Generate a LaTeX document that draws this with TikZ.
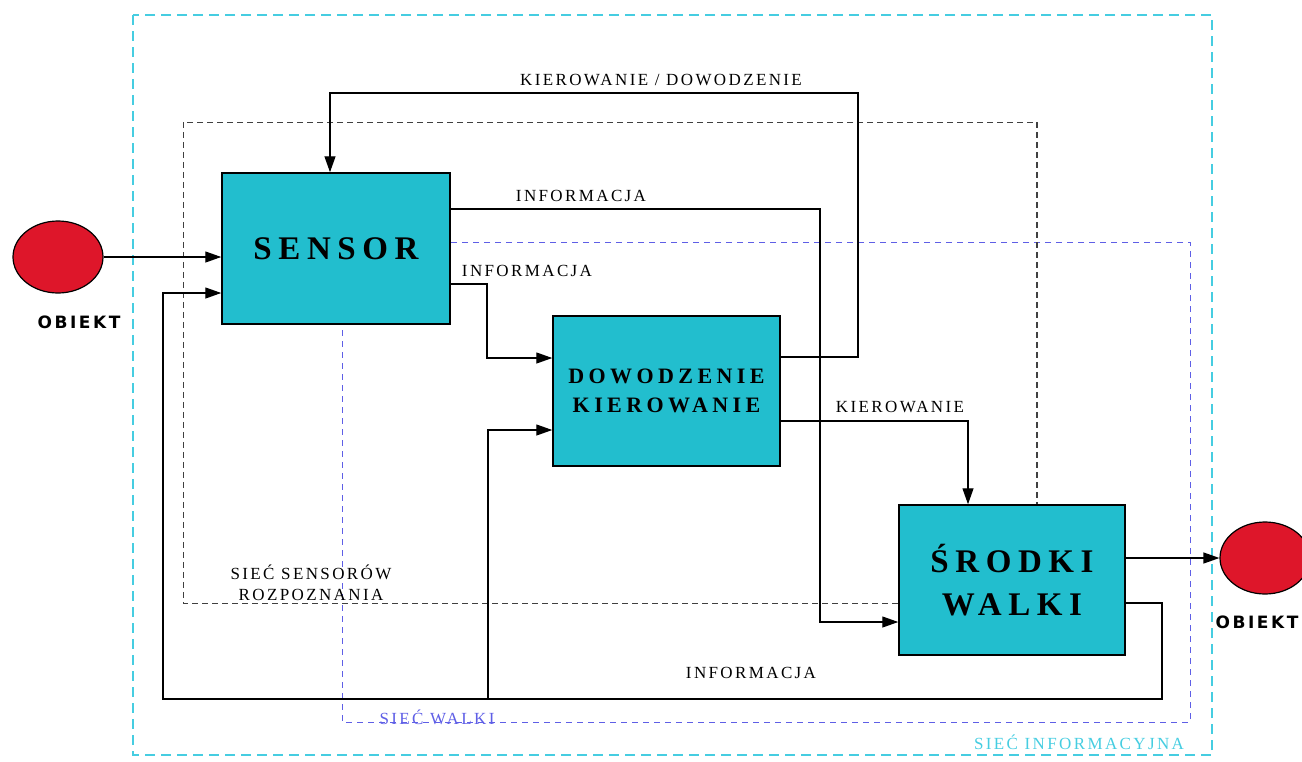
\documentclass[tikz,border=0pt]{standalone}
\usepackage{fontspec}
\setmainfont{Liberation Serif}
\newfontfamily\spacedfont[LetterSpace=20]{Liberation Serif}
\newfontfamily\lblfont[LetterSpace=14]{Liberation Serif}
\newfontfamily\objfont[LetterSpace=15]{DejaVu Sans}
\usetikzlibrary{arrows.meta, shapes.geometric}

\definecolor{boxcyan}{RGB}{34,190,206}
\definecolor{objred}{RGB}{222,22,42}
\definecolor{infocyan}{RGB}{70,205,225}
\definecolor{walkablue}{RGB}{95,95,230}

\tikzset{
  unit/.style={draw, fill=boxcyan, line width=1.5pt, align=center, inner sep=0pt},
  obj/.style={ellipse, draw, fill=objred, line width=1.2pt, minimum width=90pt, minimum height=72pt},
  objlbl/.style={font=\objfont\bfseries\fontsize{17}{20}\selectfont, inner sep=0pt},
  flow/.style={->, line width=1.3pt},
  lbl/.style={font=\lblfont\fontsize{17}{19}\selectfont, inner sep=0pt},
  infonet/.style={draw=infocyan, line width=1.3pt, dash pattern=on 10pt off 6pt},
  walkanet/.style={draw=walkablue, line width=0.9pt, dash pattern=on 6pt off 5pt},
  sensnet/.style={draw=black!75, line width=1pt, dash pattern=on 6pt off 4pt}
}

\begin{document}
\begin{tikzpicture}[x=1pt, y=-1pt, >={Triangle[length=16pt,width=11pt]}]
\useasboundingbox (0,0) rectangle (1302,761);

% networks
\draw[infonet] (133,15) rectangle (1212,755);
\draw[walkanet] (342,242) rectangle (1190,722);
\draw[sensnet] (183,122) rectangle (1037,603);
\draw[sensnet, line width=1.5pt] (1037,122) -- (1037,505);

\node[lbl, text=infocyan] (infoname) at (1079,742) {SIEĆ INFORMACYJNA};
\node[lbl, text=walkablue] (walkaname) at (437,717) {SIEĆ WALKI};
\node[lbl, align=center] (sensname) at (311,583) {SIEĆ SENSORÓW\\[2pt]ROZPOZNANIA};

% units
\node[unit, minimum width=228pt, minimum height=151pt,
      font=\spacedfont\bfseries\fontsize{33}{36}\selectfont] (sensor) at (336,248.5) {SENSOR};
\node[unit, minimum width=227pt, minimum height=150pt,
      font=\spacedfont\bfseries\fontsize{22}{29}\selectfont] (dow) at (666.5,391) {DOWODZENIE\\KIEROWANIE};
\node[unit, minimum width=226pt, minimum height=150pt,
      font=\spacedfont\bfseries\fontsize{33}{43}\selectfont] (srodki) at (1012,580) {ŚRODKI\\WALKI};

\node[obj] (objL) at (58,257) {};
\node[objlbl] (objLname) at (79,322) {OBIEKT};
\node[obj] (objR) at (1265,558) {};
\node[objlbl] (objRname) at (1257,622) {OBIEKT};

% flows
\draw[flow] (objL) -- (sensor.west |- objL);
\draw[flow] (srodki.east |- objR) -- (objR);

\coordinate (infoR) at (1162,699);
\coordinate (infoL) at (163,699);
\draw[flow] (srodki.east |- 0,603) -| (infoR) -- (infoL) |- (sensor.west |- 0,293);
\draw[flow] (488,699) |- (dow.west |- 0,430);
\node[lbl] (info3) at (751,673) {INFORMACJA};

\draw[flow] (sensor.east |- 0,209) -| (820,622) -- (srodki.west |- 0,622);
\node[lbl] (info1) at (581,196) {INFORMACJA};

\draw[flow] (sensor.east |- 0,284) -| (487,358) -- (dow.west |- 0,358);
\node[lbl] (info2) at (527,271) {INFORMACJA};

\draw[flow] (dow.east |- 0,357) -| (858,93) -| (sensor.north -| 330,0);
\node[lbl] (kd) at (661,80) {KIEROWANIE / DOWODZENIE};

\draw[flow] (dow.east |- 0,421) -| (srodki.north -| 968,0);
\node[lbl] (kier) at (900,407) {KIEROWANIE};
\end{tikzpicture}
\end{document}
